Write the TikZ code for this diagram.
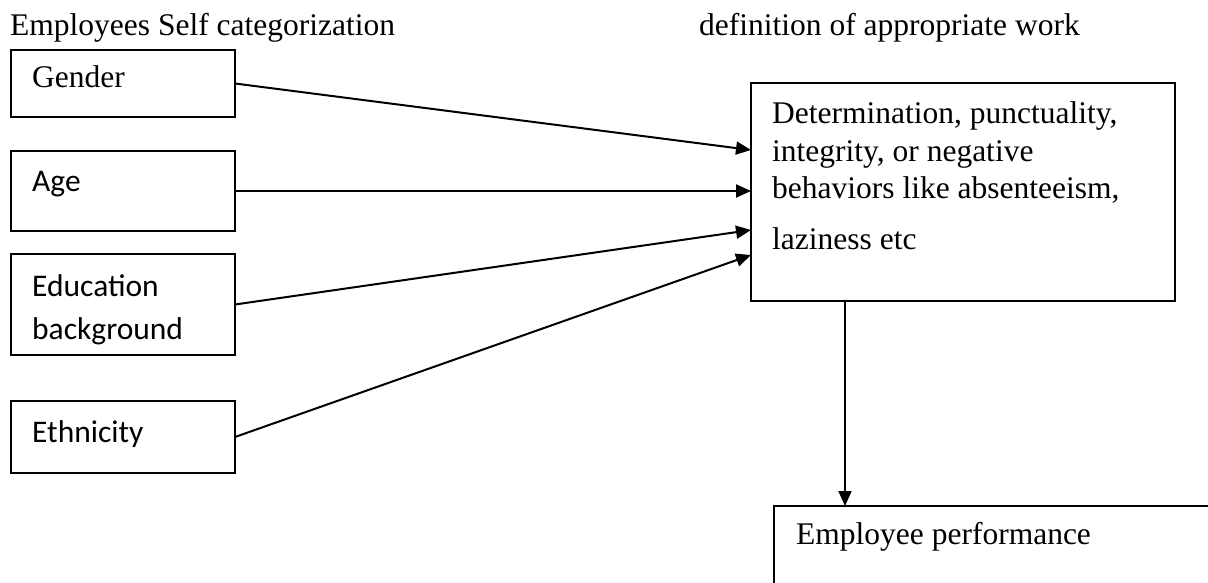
\documentclass[tikz,border=0pt]{standalone}
\usepackage{fontspec}
\setmainfont{Liberation Serif}
\newfontfamily\calfont{Carlito}
\usetikzlibrary{arrows.meta}
\begin{document}
\begin{tikzpicture}[x=1pt,y=-1pt,
  box/.style={draw, line width=1.8pt, anchor=north west, inner sep=0pt, outer sep=0pt},
  txt/.style={anchor=base west, inner sep=0pt, font=\fontsize{31.5}{37}\selectfont},
  ctxt/.style={anchor=base west, inner sep=0pt, font=\calfont\fontsize{31.5}{37}\selectfont},
  arr/.style={line width=2pt, -{Triangle[length=15pt,width=13pt]}}]
\clip (0,0) rectangle (1208,583);
\fill[white] (0,0) rectangle (1208,583);
% titles
\node[txt] (t1) at (10,36) {Employees Self categorization};
\node[txt] (t2) at (699,36) {definition of appropriate work};
% left boxes
\node[box, minimum width=224pt, minimum height=67pt] (gender) at (11,50) {};
\node[box, minimum width=224pt, minimum height=80pt] (age) at (11,151) {};
\node[box, minimum width=224pt, minimum height=101pt] (edu) at (11,254) {};
\node[box, minimum width=224pt, minimum height=72pt] (eth) at (11,401) {};
\node[txt] (gendert) at (32,88) {Gender};
\node[ctxt] (aget) at (32,191) {Age};
\node[ctxt] (edut1) at (32,296) {Education};
\node[ctxt] (edut2) at (32,339) {background};
\node[ctxt] (etht) at (32,442) {Ethnicity};
% big box
\node[box, minimum width=424pt, minimum height=218pt] (big) at (751,83) {};
\node[txt] (b1) at (772,124) {Determination, punctuality,};
\node[txt] (b2) at (772,161) {integrity, or negative};
\node[txt] (b3) at (772,198) {behaviors like absenteeism,};
\node[txt] (b4) at (772,249) {laziness etc};
% performance box
\node[box, minimum width=500pt, minimum height=120pt] (perf) at (774,506) {};
\node[txt] (perft) at (796,544) {Employee performance};
% connectors
\draw[arr] (gender.east) -- ([yshift=-67pt]big.north west);
\draw[arr] (age.east) -- ([yshift=-108pt]big.north west);
\draw[arr] (edu.east) -- ([yshift=-147pt]big.north west);
\draw[arr] (eth.east) -- ([yshift=-172pt]big.north west);
\coordinate (dtop) at ([xshift=94pt]big.south west);
\draw[arr] (dtop) -- (dtop |- perf.north);
\end{tikzpicture}
\end{document}
